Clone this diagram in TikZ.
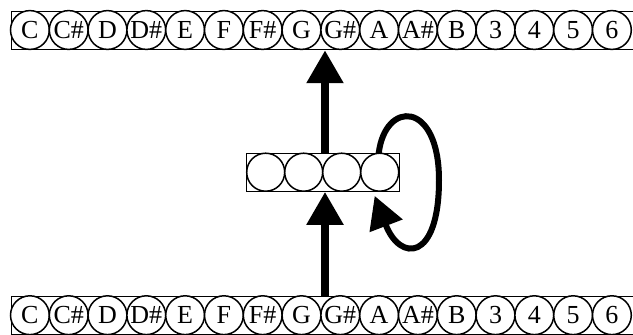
\documentclass[tikz,border=0pt]{standalone}
\usepackage{fontspec}
\setmainfont{Liberation Serif}
\usetikzlibrary{arrows.meta,calc}
\begin{document}
\begin{tikzpicture}[x=1pt,y=-1pt,
  rowbox/.style={draw,line width=1.2pt,inner sep=0pt,minimum height=38pt,anchor=north west},
  cell/.style={draw,circle,fill=white,line width=1.5pt,inner sep=0pt,minimum size=38.8pt,
    font=\fontsize{26}{28}\selectfont},
  midcell/.style={draw,circle,fill=white,line width=1.5pt,inner sep=0pt,minimum size=38pt},
  bigarrow/.style={line width=8.5pt,-{Triangle[length=33pt,width=35pt]}},
  looparrow/.style={line width=6pt,-{Triangle[length=32pt,width=34pt]}}]
\useasboundingbox (0,0) rectangle (633,335);
% rows
\node[rowbox,minimum width=640pt] (toprow) at (10.5,11) {};
\node[rowbox,minimum width=640pt] (botrow) at (10.5,296) {};
\foreach \t [count=\i from 0] in {C,C\#,D,D\#,E,F,F\#,G,G\#,A,A\#,B,3,4,5,6}{
  \node[cell] (t\i) at (29.9+38.8*\i,30) {\t};
  \node[cell] (b\i) at (29.9+38.8*\i,315.2) {\t};
}
% middle layer
\node[draw,line width=1.2pt,fill=white,inner sep=0pt,minimum width=152.5pt,minimum height=38pt] (mid) at (323,172.2) {};
\foreach \i in {1,...,4}{
  \node[midcell] (c\i) at (246.7+19+38*\i-38,172.2) {};
}
\coordinate (ax) at (325,0);
% arrows
\draw[bigarrow] (mid.north -| ax) -- (toprow.south -| ax);
\draw[bigarrow] (botrow.north -| ax) -- (mid.south -| ax);
\draw[looparrow] ($(c4.north)+(-1,1)$) .. controls (385,100) and (439,100) .. (439,180)
   .. controls (439,262) and (400,262) .. ($(c4.south)+(-5,4)$);
\end{tikzpicture}
\end{document}
